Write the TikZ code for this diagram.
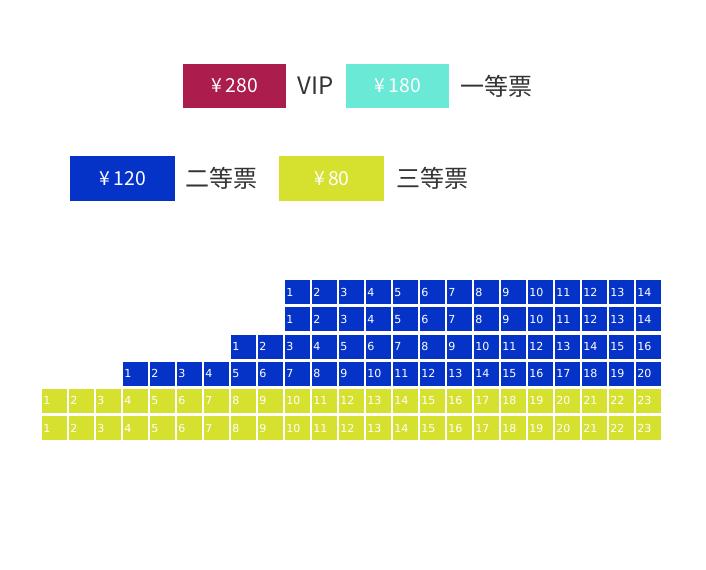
\documentclass[tikz,border=0pt]{standalone}
\usepackage{fontspec}
\usepackage{xcolor}
\usepackage{tikz}
\newfontfamily\cjk{Noto Sans CJK SC}
\newfontfamily\seatfont{DejaVu Sans}

\definecolor{vipred}{HTML}{AA1D4D}
\definecolor{firstcyan}{HTML}{6AE9D7}
\definecolor{secondblue}{HTML}{0533C8}
\definecolor{thirdyellow}{HTML}{D5E12E}
\definecolor{labelgray}{HTML}{333333}

\begin{document}
\begin{tikzpicture}[x=0.75pt, y=-0.75pt,
  pricebox/.style={fill=#1, text=white, inner sep=0, anchor=north west,
    font=\cjk\fontsize{14.5}{15}\selectfont},
  classlabel/.style={text=labelgray, inner sep=0, font=\cjk\fontsize{18}{20}\selectfont},
  seat/.style={fill=#1, text=white, inner xsep=0.75pt, inner ysep=0,
    text width=17.25pt, text height=5.6pt, text depth=0pt,
    minimum height=18pt, align=left, anchor=north west,
    font=\seatfont\fontsize{8.3}{8}\selectfont}]
  % Canvas
  \useasboundingbox (0,0) rectangle (706,569);

  % Legend, first line
  \node[pricebox=vipred, minimum width=77.25pt, minimum height=32.5pt] (vip) at (183,64) {¥\,280};
  \node[classlabel] (viplabel) at (315.5,86) {VIP};
  \node[pricebox=firstcyan, minimum width=77.25pt, minimum height=32.5pt] (first) at (346,64) {¥\,180};
  \node[classlabel] (firstlabel) at (496,86) {一等票};

  % Legend, second line
  \node[pricebox=secondblue, minimum width=78.75pt, minimum height=33.5pt] (second) at (70,156) {¥\,120};
  \node[classlabel] (secondlabel) at (221,178) {二等票};
  \node[pricebox=thirdyellow, minimum width=78.75pt, minimum height=33.5pt] (third) at (279,156) {¥\,80};
  \node[classlabel] (thirdlabel) at (432,178) {三等票};

  % Seats: row / seats in row / colour, right-aligned at x=661
  \foreach \r/\n/\c in {1/14/secondblue, 2/14/secondblue, 3/16/secondblue,
                         4/20/secondblue, 5/23/thirdyellow, 6/23/thirdyellow}
    \foreach \i in {1,...,\n}
      \node[seat=\c] (r\r s\i) at ({661-(\n-\i+1)*27+2}, {280+(\r-1)*27.2}) {\i};
\end{tikzpicture}
\end{document}
